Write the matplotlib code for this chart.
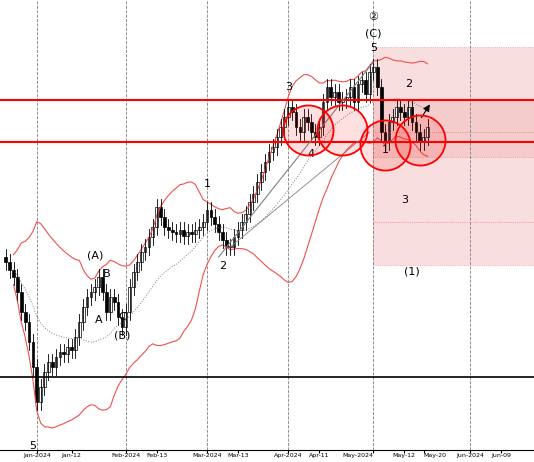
import matplotlib
matplotlib.use("Agg")
import matplotlib.pyplot as plt
import numpy as np
import pandas as pd
from matplotlib.patches import Rectangle

closes = [200,192,185,170,150,140,120,95,
          60,75,90,100,95, 105,110,108,115,112, 125,140,155,165,170,
          175,185,170,150,165, 160,145,135,150,175, 190,200,210,215,225,
          235,255,245,235,232, 230,228,232,226,230, 228,232,235,240,252,
          245,238,230,222,215, 215,225,232,240,248, 260,268,280,290,300,
          310,315,325,335,345, 355,350,335,330,345, 340,330,325,335,360,
          375,365,370,360,362, 365,375,360,378,382, 368,390,395,375,330,
          320,340,345,355,350, 345,355,340,330,320, 325,335]
res_upper, res_lower, support = 362, 320, 85
tick_dates = ["2024-01-01","2024-01-12","2024-02-01","2024-02-13","2024-03-01","2024-03-13",
              "2024-04-01","2024-04-11","2024-05-01","2024-05-12","2024-05-20","2024-06-01","2024-06-09"]
tick_labels = ["Jan-2024","Jan-12","Feb-2024","Feb-13","Mar-2024","Mar-13","Apr-2024","Apr-11",
               "May-2024","May-12","May-20","Jun-2024","Jun-09"]

dates = pd.bdate_range("2023-12-20", periods=len(closes))
axis_days = pd.DatetimeIndex(list(pd.bdate_range("2023-12-19", dates[-1])) +
                             list(pd.date_range(dates[-1] + pd.Timedelta(days=1), "2024-06-17")))
def xd(d):
    return float(axis_days.searchsorted(pd.Timestamp(d)))

c = np.array(closes, float)
o = np.concatenate([[c[0]+5], c[:-1]])
hi = np.maximum(o, c) + 8
lo = np.minimum(o, c) - 8
s = pd.Series(c)
mid = s.rolling(20, min_periods=3).mean()
sd = s.rolling(20, min_periods=3).std()
up, dn = mid + 2*sd, mid - 2*sd

fig = plt.figure(figsize=(5.34, 4.62), dpi=100)
ax = fig.add_axes([0, 12/462, 1, 450/462])
x = np.array([xd(d) for d in dates])
ax.set_xlim(-0.5, len(axis_days) - 0.5)
ax.set_ylim(12, 462)

for d in ["2024-01-01","2024-02-01","2024-03-01","2024-04-01","2024-05-01","2024-06-01"]:
    ax.axvline(xd(d), color="grey", ls="--", lw=0.6)

x0 = xd("2024-05-01")
W = len(axis_days) - x0
ax.add_patch(Rectangle((x0, 197), W, 218, facecolor="#f7d6d6", edgecolor="#e88", ls=":", lw=0.6, alpha=0.8))
ax.add_patch(Rectangle((x0, 305), W, 57, facecolor="#f2c0c0", alpha=0.6, lw=0))
for yy in [330, 305, 240]:
    ax.plot([x0, x0+W], [yy, yy], color="#e66", lw=0.5, ls=":")

ax.plot(x, up, color="#f05050", lw=0.8)
ax.plot(x, dn, color="#f05050", lw=0.8)
ax.plot(x, mid, color="grey", lw=0.7, ls=":")

for xi, oi, ci, h, l in zip(x, o, c, hi, lo):
    ax.plot([xi, xi], [l, h], color="black", lw=0.6)
    ax.add_patch(Rectangle((xi-0.35, min(oi, ci)), 0.7, max(abs(ci-oi), 1),
                           facecolor="white" if ci >= oi else "black", edgecolor="black", lw=0.5))

ax.axhline(res_upper, color="red", lw=1.5)
ax.axhline(res_lower, color="red", lw=1.5)
ax.axhline(support, color="black", lw=1.2)

ax.plot([xd("2024-03-06"), xd("2024-05-01")], [205, 400], color="grey", lw=0.8)
ax.plot([xd("2024-03-10"), xd("2024-04-30")], [215, 330], color="grey", lw=0.6)
for d, yy in [("2024-04-08", 332), ("2024-04-19", 332), ("2024-05-06", 317), ("2024-05-17", 322)]:
    ax.scatter([xd(d)], [yy], s=1300, facecolor=(1, 0, 0, 0.12), edgecolor="red", lw=1.3, zorder=5)

labels = [("2024-05-01", 445, "②"), ("2024-05-01", 428, "(C)"), ("2024-05-01", 414, "5"),
          ("2024-04-01", 375, "3"), ("2024-04-09", 308, "4"), ("2024-05-06", 312, "1"),
          ("2024-05-14", 378, "2"), ("2024-05-13", 262, "3"), ("2024-05-15", 190, "(1)"),
          ("2024-03-01", 278, "1"), ("2024-03-07", 196, "2"), ("2024-01-22", 206, "(A)"),
          ("2024-01-25", 188, "B"), ("2024-01-23", 142, "A"), ("2024-01-31", 145, "C"),
          ("2024-01-31", 127, "(B)"), ("2023-12-29", 16, "5")]
for d, yy, t in labels:
    ax.text(xd(d), yy, t, ha="center", va="center", fontsize=8)
ax.annotate("", xy=(xd("2024-05-22"), 360), xytext=(xd("2024-05-17"), 342),
            arrowprops=dict(arrowstyle="-|>", color="black", lw=0.8))

ax.set_xticks([xd(d) for d in tick_dates])
ax.set_xticklabels(tick_labels, fontsize=4.5)
tl = ax.get_xticklabels()
tl[8].set_horizontalalignment("right")
tl[10].set_horizontalalignment("left")
ax.tick_params(axis="x", length=2, pad=0.5)
ax.set_yticks([])
for sp in ["left", "right", "top"]:
    ax.spines[sp].set_visible(False)
fig.savefig("out.png", dpi=100)
